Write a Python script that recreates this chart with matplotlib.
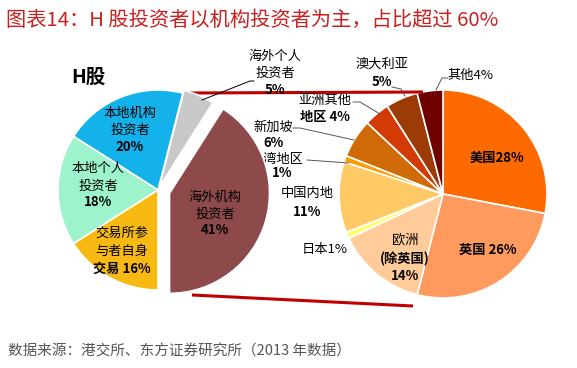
import matplotlib
matplotlib.use("Agg")
import matplotlib.pyplot as plt

plt.rcParams['font.family'] = ['Noto Sans CJK SC', 'DejaVu Sans']

# ---- data ----
h_labels = ["海外机构投资者", "海外个人投资者", "本地机构投资者", "本地个人投资者", "交易所参与者自身交易"]
h_values = [41, 5, 20, 18, 16]
h_colors = ["#8E4A4B", "#C8C8C8", "#14B2EA", "#9CF3CC", "#F8BA12"]

o_labels = ["美国", "英国", "欧洲(除英国)", "日本", "中国内地", "台湾地区", "新加坡", "亚洲其他地区", "澳大利亚", "其他"]
o_values = [28, 26, 14, 1, 11, 1, 6, 4, 5, 4]
o_colors = ["#FF6A00", "#FF9A5E", "#FFCC99", "#FFFF70", "#FFCA65", "#FF9A00",
            "#CF6A06", "#D23B05", "#9C3B05", "#6E0000"]

title = "图表14：H 股投资者以机构投资者为主，占比超过 60%"
source = "数据来源：港交所、东方证券研究所（2013 年数据）"

W, H = 577, 368
fig = plt.figure(figsize=(W / 100, H / 100), dpi=100)
ax = fig.add_axes([0, 0, 1, 1])


def Y(y):
    return H - y


# left pie (H股)
lw, _ = ax.pie(h_values, colors=h_colors, startangle=-90, counterclock=True,
               radius=100, center=(158, Y(190)), explode=[12, 3, 0, 0, 0],
               frame=True, wedgeprops=dict(edgecolor="white", linewidth=1.2))
for w in lw:
    w.set_zorder(2)

# right pie (海外投资者来源)
rw, _ = ax.pie(o_values, colors=o_colors, startangle=90, counterclock=False,
               radius=104, center=(443, Y(194)),
               frame=True, wedgeprops=dict(edgecolor="white", linewidth=1.2))

ax.set_xlim(0, W)
ax.set_ylim(0, H)
ax.set_aspect("auto")
ax.axis("off")

# connector lines
ax.plot([190, 423], [Y(93), Y(92)], color="#C00000", lw=2.2, zorder=1.5, solid_capstyle="butt")
ax.plot([192, 413], [Y(295), Y(306)], color="#C00000", lw=2.2, zorder=1.5, solid_capstyle="butt")

FS = 9.5


def lab(x, y, s, bold=False, z=4, fs=FS):
    ax.text(x, Y(y), s, ha="center", va="center", fontsize=fs,
            fontweight="bold" if bold else "normal", zorder=z, color="black")


# left pie labels
lab(88, 77, "H股", bold=True, fs=14)
lab(130, 113, "本地机构"); lab(130, 130, "投资者"); lab(130, 147, "20%", bold=True)
lab(98, 168, "本地个人"); lab(98, 186, "投资者"); lab(98, 202, "18%", bold=True)
lab(122, 233, "交易所参"); lab(122, 251, "与者自身"); lab(122, 269, "交易 16%", bold=True)
lab(215, 197, "海外机构"); lab(215, 214, "投资者"); lab(215, 230, "41%", bold=True)
lab(275, 56, "海外个人"); lab(275, 73, "投资者"); lab(275, 90, "5%", bold=True)
ax.plot([202, 250, 254], [Y(100), Y(81), Y(81)], color="black", lw=0.7, zorder=3)

# right pie labels
lab(497, 158, "美国28%", bold=True)
lab(488, 250, "英国 26%", bold=True)
lab(405, 240, "欧洲"); lab(405, 259, "(除英国)", bold=True); lab(405, 276, "14%", bold=True)
lab(325, 250, "日本1%")
lab(307, 194, "中国内地"); lab(307, 212, "11%", bold=True)
lab(277, 159, "台湾地区", z=1); lab(282, 173, "1%", bold=True)
ax.plot([307, 349], [Y(160), Y(163)], color="#555555", lw=0.7, zorder=3)
lab(273, 127, "新加坡"); lab(274, 143, "6%", bold=True)
ax.plot([293, 300, 354], [Y(128), Y(128), Y(140)], color="#555555", lw=0.7, zorder=3)
lab(325, 100, "亚洲其他"); lab(325, 117, "地区 4%", bold=True)
ax.plot([353, 360, 380], [Y(102), Y(102), Y(114)], color="#555555", lw=0.7, zorder=3)
lab(382, 64, "澳大利亚"); lab(382, 82, "5%", bold=True)
ax.plot([392, 401, 405], [Y(87), Y(89), Y(96)], color="#555555", lw=0.7, zorder=3)
lab(470, 75, "其他4%")
ax.plot([448, 442, 436], [Y(78), Y(78), Y(90)], color="#555555", lw=0.7, zorder=3)

# title and source
ax.text(6, Y(20), title, ha="left", va="center", fontsize=14.6, color="#C8201E")
ax.text(8, Y(352), source, ha="left", va="center", fontsize=10.5, color="#555555")

fig.savefig("out.png", dpi=100)
